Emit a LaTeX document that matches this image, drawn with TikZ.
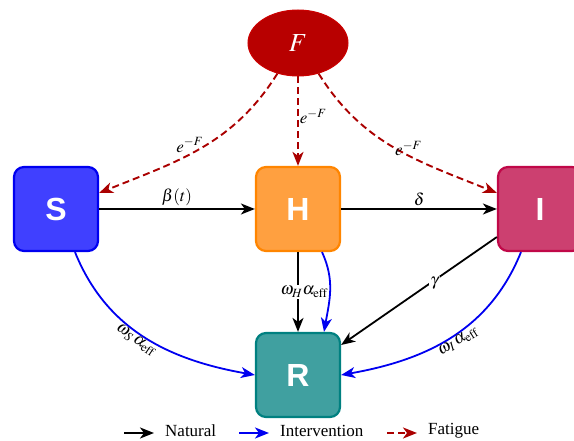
\documentclass[tikz,border=0pt]{standalone}
\usepackage{mathptmx}
\usepackage{fontspec}
\setmainfont{Liberation Serif}
\newfontfamily\boxfont{Liberation Sans}
\usetikzlibrary{arrows.meta,shapes.geometric}
\definecolor{sfill}{HTML}{4040FF}
\definecolor{sdraw}{HTML}{0000F0}
\definecolor{hfill}{HTML}{FFA040}
\definecolor{hdraw}{HTML}{FF8500}
\definecolor{ifill}{HTML}{CC4070}
\definecolor{idraw}{HTML}{C00848}
\definecolor{rfill}{HTML}{40A0A0}
\definecolor{rdraw}{HTML}{008080}
\definecolor{ffill}{HTML}{B80000}
\definecolor{fdraw}{HTML}{CC0000}
\definecolor{fat}{HTML}{AA0000}
\definecolor{intv}{HTML}{0000F0}
\begin{document}
\begin{tikzpicture}[x=1pt,y=1pt,
  font=\fontsize{17}{20}\selectfont,
  box/.style={draw, rectangle, rounded corners=10pt, line width=2.2pt,
    minimum width=84pt, minimum height=84pt, text=white,
    font=\boxfont\bfseries\fontsize{32}{36}\selectfont},
  tipst/.style={-{Stealth[length=14pt,width=11pt,inset=4pt]}},
  natarrow/.style={tipst, line width=1.8pt, black},
  intarrow/.style={tipst, line width=1.8pt, intv},
  fatarrow/.style={tipst, line width=1.9pt, fat, dash pattern=on 7pt off 4pt},
  lbl/.style={inner sep=2pt, text=black},
  wlbl/.style={inner sep=1.5pt, fill=white, text=black}
]
\useasboundingbox (0,0) rectangle (574,-441);

% nodes
\node[box, fill=sfill, draw=sdraw] (S) at (56,-209) {S};
\node[box, fill=hfill, draw=hdraw] (H) at (298,-209) {H};
\node[box, fill=ifill, draw=idraw] (I) at (540,-209) {I};
\node[box, fill=rfill, draw=rdraw] (R) at (298,-375) {R};
\node[ellipse, fill=ffill, draw=fdraw, line width=1pt, minimum width=100pt,
  minimum height=66pt, text=white, font=\fontsize{26}{30}\selectfont] (F) at (298,-43) {$F$};

% natural
\draw[natarrow] (S) -- node[above, lbl] {$\beta(t)$} (H);
\draw[natarrow] (H) -- node[above, lbl] {$\delta$} (I);
\draw[natarrow] (H) -- node[wlbl, xshift=6pt] {$\omega_H\alpha_{\mathrm{eff}}$} (R);
\draw[natarrow] ([yshift=-28pt]I.west) -- node[wlbl, pos=0.4, yshift=-3pt] {$\gamma$} ([yshift=30pt]R.east);

% intervention
\draw[intarrow] ([xshift=19pt]S.south) to[out=-68, in=170]
  node[sloped, below, pos=0.47, lbl, inner sep=1pt] {$\omega_S\,\alpha_{\mathrm{eff}}$} (R.west);
\draw[intarrow] ([xshift=-19pt]I.south) to[out=-112, in=10]
  node[rotate=32, anchor=north, pos=0.48, lbl, inner sep=1pt] {$\omega_I\,\alpha_{\mathrm{eff}}$} (R.east);
\draw[intarrow] ([xshift=24pt]H.south) to[out=-65, in=80] ([xshift=26pt]R.north);

% fatigue
\draw[fatarrow] (F.-124) to[out=-122, in=22]
  node[pos=0.47, left, lbl] {$e^{-F}$} ([yshift=16pt]S.east);
\draw[fatarrow] (F) -- node[pos=0.45, right, inner sep=1pt, text=black] {$e^{-F}$} (H);
\draw[fatarrow] (F.-56) to[out=-58, in=158]
  node[pos=0.5, right, lbl, xshift=-3pt] {$e^{-F}$} ([yshift=16pt]I.west);

% legend
\coordinate (La) at (124,-433);
\coordinate (Lb) at (154,-433);
\coordinate (Lc) at (239,-433);
\coordinate (Ld) at (269,-433);
\coordinate (Le) at (387,-433);
\coordinate (Lf) at (417,-433);
\draw[natarrow] (La) -- (Lb);
\draw[intarrow] (Lc) -- (Ld);
\draw[fatarrow] (Le) -- (Lf);
\node[anchor=west, inner sep=0pt] (Ln) at (165,-431) {Natural};
\node[anchor=west, inner sep=0pt] (Li) at (280,-431) {Intervention};
\node[anchor=west, inner sep=0pt] (Lt) at (428,-431) {Fatigue};
\end{tikzpicture}
\end{document}
